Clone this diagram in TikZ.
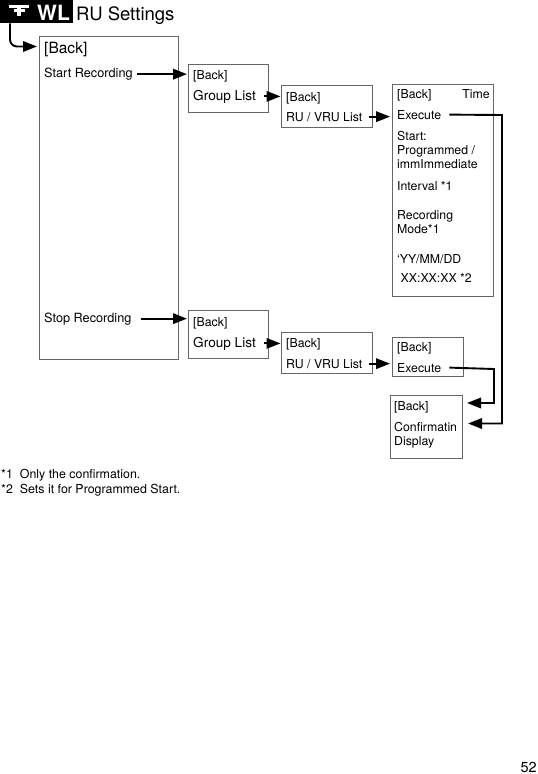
\documentclass[tikz,border=0pt]{standalone}
\usepackage{fontspec}
\setmainfont{TeX Gyre Heros}
\usetikzlibrary{positioning, arrows.meta}
\definecolor{frame}{HTML}{666666}

\begin{document}
\begin{tikzpicture}[
      x=1pt, y=-1pt,
      panel/.style={rectangle, draw=frame, line width=0.9pt, inner sep=0pt, anchor=north west},
      panelb/.style={panel, line width=1.3pt},
      lbl/.style={inner sep=0pt, anchor=base west, align=left,
                  font=\fontsize{12.3}{14.4}\selectfont},
      medlbl/.style={lbl, font=\fontsize{12.7}{15}\selectfont},
      biglbl/.style={lbl, font=\fontsize{13.6}{16}\selectfont},
      note/.style={lbl, font=\fontsize{12.4}{15}\selectfont},
      arr/.style={-{Triangle[length=14pt, width=10.5pt]}, draw=black, line width=1.9pt},
    ]
    \useasboundingbox (0,0) rectangle (538,774);

    \node[rectangle, fill=black, inner sep=0pt, minimum width=73pt, minimum height=23pt, anchor=north west] (header) at (0,0) {};
    \draw[white, line width=3pt] (9,6.5) -- (29,6.5);
    \draw[white, line width=2.4pt] (14,10.5) -- (25,10.5);
    \draw[white, line width=3.4pt] (19,6) -- (19,16);
    \node[lbl, white, font=\fontsize{21}{21}\selectfont\bfseries] (wl) at (37,20) {WL};
    \node[lbl, font=\fontsize{18.5}{20}\selectfont] (title) at (76,20) {RU Settings};

    \node[panel, minimum width=139pt, minimum height=323.5pt] (main) at (39,35.5) {};
    \node[panelb, minimum width=79.5pt, minimum height=48.5pt] (group1) at (188,63.5) {};
    \node[panelb, minimum width=79.5pt, minimum height=48pt] (group2) at (188,310) {};
    \node[panel, minimum width=90.5pt, minimum height=42pt] (ru1) at (281,85) {};
    \node[panel, minimum width=90.5pt, minimum height=41pt] (ru2) at (281,332) {};
    \node[panel, minimum width=101pt, minimum height=212pt] (exec1) at (392,84) {};
    \node[panel, minimum width=71pt, minimum height=39pt] (exec2) at (392,336.5) {};
    \node[panel, minimum width=72.5pt, minimum height=63pt] (conf) at (389.5,395) {};

    \node[lbl, font=\fontsize{15.5}{18}\selectfont] (mainback) at (44,53) {[Back]};
    \node[medlbl] (startrec) at (44,77.5) {Start Recording};
    \node[medlbl] (stoprec) at (44,322) {Stop Recording};

    \node[lbl] (gback1) at (193,79) {[Back]};
    \node[biglbl] (glist1) at (193,100) {Group List};
    \node[lbl] (gback2) at (193,326) {[Back]};
    \node[biglbl] (glist2) at (193,347) {Group List};

    \node[lbl] (rback1) at (286,101) {[Back]};
    \node[lbl] (rlist1) at (286,121) {RU / VRU List};
    \node[lbl] (rback2) at (286,347) {[Back]};
    \node[lbl] (rlist2) at (286,368) {RU / VRU List};

    \node[lbl] (eback1) at (397,98.5) {[Back]};
    \node[lbl, anchor=base east] (time) at (490,98.5) {Time};
    \node[lbl] (eexec1) at (397,119) {Execute};
    \node[lbl] (start) at (397,168.8) {Start:\\Programmed /\\immImmediate};
    \node[lbl] (interval) at (397,190) {Interval *1};
    \node[lbl] (recmode) at (397,233.4) {Recording\\Mode*1};
    \node[lbl] (date) at (397,263) {‘YY/MM/DD};
    \node[lbl] (clock) at (400.5,282) {XX:XX:XX *2};

    \node[lbl] (eback2) at (397,351) {[Back]};
    \node[lbl] (eexec2) at (397,372) {Execute};

    \node[lbl] (cback) at (394,410) {[Back]};
    \node[lbl] (cdisp) at (394,445.4) {Confirmatin\\Display};

    \node[note] (note1) at (1,478) {*1\hspace{7pt}Only the confirmation.};
    \node[note] (note2) at (1,493) {*2\hspace{7pt}Sets it for Programmed Start.};
    \node[lbl, font=\fontsize{14.5}{16}\selectfont, anchor=base east] (pageno) at (537,772) {52};

    \coordinate (entry) at (37,46.5);
    \coordinate (cin1) at (467,403);
    \coordinate (cin2) at (468,423.5);
    \coordinate (turn1) at (494,369);
    \coordinate (turn2) at (502,115);

    \draw[arr, rounded corners=7pt] ([xshift=10pt]header.south west) |- (entry);
    \draw[arr] ([xshift=4pt]startrec.east) -- ([xshift=-1pt]startrec.east -| group1.west);
    \draw[arr] ([xshift=9pt]stoprec.east) -- ([xshift=-1pt]stoprec.east -| group2.west);
    \draw[arr] ([xshift=8pt]glist1.east) -- ([xshift=-0.5pt]glist1.east -| ru1.west);
    \draw[arr] ([xshift=8pt]glist2.east) -- ([xshift=-0.5pt]glist2.east -| ru2.west);
    \draw[arr] ([xshift=6pt]rlist1.east) -- ([xshift=-2pt]rlist1.east -| exec1.west);
    \draw[arr] ([xshift=6pt]rlist2.east) -- ([xshift=-2pt]rlist2.east -| exec2.west);
    \draw[arr] ([xshift=8pt]eexec2.east) -- (turn1) -- (turn1 |- cin1) -- (cin1);
    \draw[arr] ([xshift=8pt]eexec1.east) -- (turn2) -- (turn2 |- cin2) -- (cin2);
\end{tikzpicture}
\end{document}
